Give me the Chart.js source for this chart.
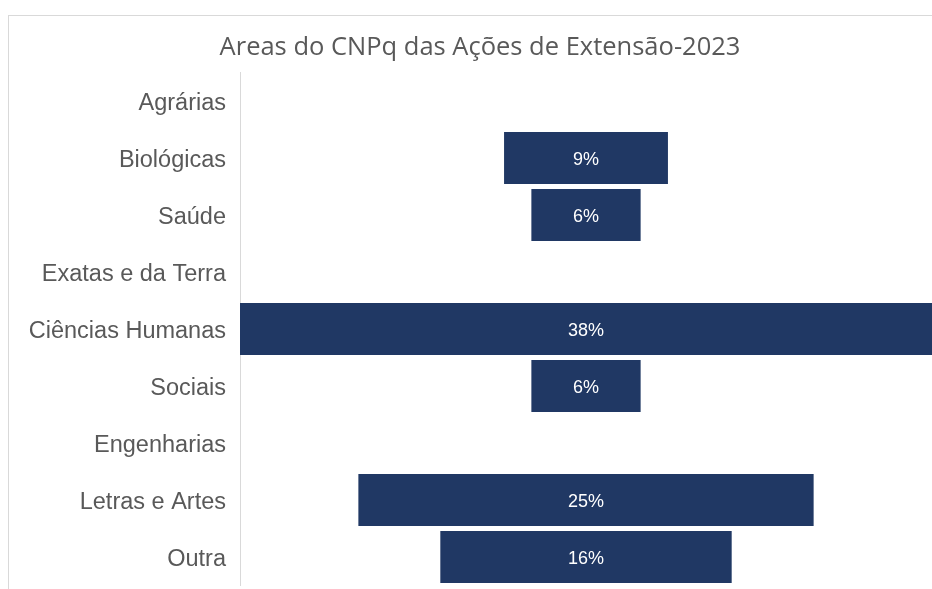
<!DOCTYPE html>
<html>
<head>
<meta charset="utf-8">
<script src="https://cdn.jsdelivr.net/npm/chart.js@4/dist/chart.umd.min.js"></script>
<style>
  html, body { margin: 0; padding: 0; background: #fff; overflow: hidden; }
  #frame {
    position: absolute; left: 8px; top: 15px;
    width: 960px; height: 620px;
    border: 1px solid #d9d9d9;
  }
  #wrap { position: absolute; left: 0; top: 0; width: 932px; height: 589px; }
</style>
</head>
<body>
<div id="frame"></div>
<div id="wrap"><canvas id="funnel"></canvas></div>
<script>
// Funnel: Areas do CNPq das Ações de Extensão-2023
const categories = ['Agrárias', 'Biológicas', 'Saúde', 'Exatas e da Terra', 'Ciências Humanas',
                    'Sociais', 'Engenharias', 'Letras e Artes', 'Outra'];
const shares = [0, 9, 6, 0, 38, 6, 0, 25, 16];
const maxShare = 38;

const BAR_COLOR = '#203864';
const TEXT_GRAY = '#595959';

// centre each bar on zero so the rows make a funnel
const ranges = shares.map(v => [-v / 2, v / 2]);

// draw the percentage inside every bar that is not empty
const barLabels = {
    id: 'barLabels',
    afterDatasetsDraw(chart) {
        const ctx = chart.ctx;
        const meta = chart.getDatasetMeta(0);
        ctx.save();
        ctx.fillStyle = '#ffffff';
        ctx.font = "18px 'Liberation Sans', Arial, sans-serif";
        ctx.textAlign = 'center';
        ctx.textBaseline = 'middle';
        meta.data.forEach((bar, i) => {
            if (!shares[i]) return;
            const p = bar.getCenterPoint();
            ctx.fillText(shares[i] + '%', p.x, p.y + 2);
        });
        ctx.restore();
    },
};

new Chart(document.getElementById('funnel'), {
    type: 'bar',
    data: {
        labels: categories,
        datasets: [{
            data: ranges,
            backgroundColor: BAR_COLOR,
            borderWidth: 0,
            borderSkipped: false,
            categoryPercentage: 1,
            barPercentage: 0.91,
        }],
    },
    options: {
        indexAxis: 'y',
        responsive: true,
        maintainAspectRatio: false,
        animation: false,
        layout: { padding: { left: 28, right: 0, top: 0, bottom: 3.5 } },
        plugins: {
            legend: { display: false },
            tooltip: { enabled: false },
            title: {
                display: true,
                text: 'Areas do CNPq das Ações de Extensão-2023',
                color: TEXT_GRAY,
                font: { family: "'Open Sans', sans-serif", size: 25.5, weight: 'normal' },
                padding: { top: 32.7, bottom: 9.2 },
            },
        },
        scales: {
            x: {
                display: false,
                min: -maxShare / 2,
                max: maxShare / 2,
            },
            y: {
                afterFit(scale) {
                    scale.width = 212;
                    scale.paddingTop = 0;
                    scale.paddingBottom = 0;
                },
                grid: { display: false, drawTicks: false },
                border: { display: true, color: '#d9d9d9', width: 1 },
                ticks: {
                    color: TEXT_GRAY,
                    padding: 14,
                    // empty first line nudges the label a few px down
                    callback: (v, i) => ['', categories[i]],
                    font: { family: "'Liberation Sans', Arial, sans-serif", size: 23.5, lineHeight: '6px' },
                },
            },
        },
    },
    plugins: [barLabels],
});
</script>
</body>
</html>
